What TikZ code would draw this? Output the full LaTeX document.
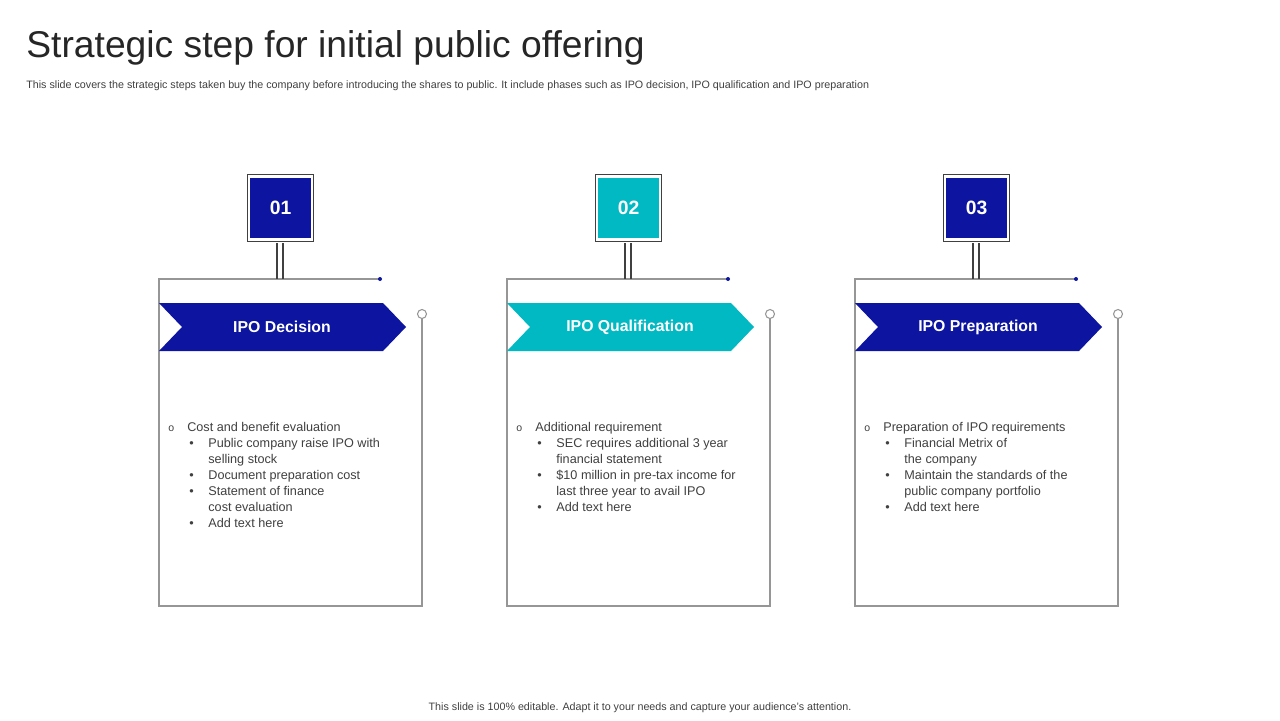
\documentclass[tikz,border=0pt]{standalone}
\usepackage{fontspec}
\setmainfont{Liberation Sans}
\usetikzlibrary{positioning}
\definecolor{ipoblue}{RGB}{12, 20, 160}
\definecolor{ipoteal}{RGB}{0, 185, 195}
\definecolor{ipogray}{RGB}{150, 150, 150}
\definecolor{ipotext}{RGB}{64, 64, 64}
\definecolor{ipotitle}{RGB}{38, 38, 38}
\newcommand{\lvlone}[1]{\makebox[10.8pt][l]{\fontsize{6}{6}\selectfont o}#1}
\newcommand{\lvltwo}[1]{\hspace{12pt}\makebox[10.8pt][l]{•}#1}
\newcommand{\lvlcont}[1]{\hspace{22.8pt}#1}

\begin{document}
\begin{tikzpicture}[
    x=0.02cm, y=-0.02cm,
    numbox/.style={
        draw=ipotext,
        fill=white,
        line width=0.6pt,
        minimum width=38pt,
        minimum height=38pt,
        inner sep=0pt
    },
    numfill/.style={
        minimum width=34.5pt,
        minimum height=34.5pt,
        inner sep=0pt,
        text=white,
        font=\fontsize{11}{11}\selectfont\bfseries
    },
    frame/.style={
        draw=ipogray,
        line width=0.6pt
    },
    chevlabel/.style={
        text=white,
        font=\fontsize{9}{9}\selectfont\bfseries
    },
    bullets/.style={
        align=left,
        anchor=north west,
        inner sep=0pt,
        text=ipotext,
        font=\fontsize{7.2}{9.07}\selectfont
    }
]

% Background
\fill[white] (0,0) rectangle (1280,720);

% Title
\node[anchor=west, inner sep=0pt, text=ipotitle, font=\fontsize{21.2}{21.2}\selectfont] (title) at (26,48) {Strategic step for initial public offering};
\node[anchor=west, inner sep=0pt, text=ipotext, font=\fontsize{6.1}{6.1}\selectfont] (subtitle) at (26,86) {This slide covers the strategic steps taken buy the company before introducing the shares to public. It include phases such as IPO  decision, IPO  qualification and IPO  preparation};

% Panels
\foreach \i/\dx/\c/\num/\lbl in {1/0/ipoblue/01/IPO Decision, 2/348/ipoteal/02/IPO Qualification, 3/696/ipoblue/03/IPO Preparation} {
    \begin{scope}[shift={(\dx,0)}]
        % frame
        \draw[frame] (380,279) -- (159,279) -- (159,606) -- (422,606) -- (422,318);
        \fill[ipoblue] (380,279) circle (2);
        \draw[frame, fill=white] (422,314) circle (4.5);
        % stem
        \draw[ipotext, line width=0.6pt] (277,243) -- (277,279);
        \draw[ipotext, line width=0.6pt] (283,243) -- (283,279);
        % number box
        \node[numbox] (box\i) at (280.5,208) {};
        \node[numfill, fill=\c] (num\i) at (box\i) {\num};
        % chevron
        \fill[\c] (159,303) -- (383,303) -- (406,327) -- (383,351) -- (159,351) -- (182,327) -- cycle;
        \node[chevlabel] (lbl\i) at (282,327) {\lbl};
    \end{scope}
}

% Bullet texts
\node[bullets] (list1) at (168,422) {%
\lvlone{Cost and benefit evaluation}\\
\lvltwo{Public company raise IPO with}\\
\lvlcont{selling stock}\\
\lvltwo{Document preparation  cost}\\
\lvltwo{Statement of finance}\\
\lvlcont{cost evaluation}\\
\lvltwo{Add text here}};

\node[bullets] (list2) at (516,422) {%
\lvlone{Additional requirement}\\
\lvltwo{SEC requires  additional 3 year}\\
\lvlcont{financial statement}\\
\lvltwo{\$10 million in pre-tax income for}\\
\lvlcont{last three year to avail  IPO}\\
\lvltwo{Add text here}};

\node[bullets] (list3) at (864,422) {%
\lvlone{Preparation  of IPO requirements}\\
\lvltwo{Financial Metrix of}\\
\lvlcont{the company}\\
\lvltwo{Maintain the standards of the}\\
\lvlcont{public company portfolio}\\
\lvltwo{Add text here}};

% Footer
\node[text=ipotext, font=\fontsize{6.1}{6.1}\selectfont] (footer) at (640,708) {This slide is 100\% editable.  Adapt it to your needs and capture your audience's attention.};

\end{tikzpicture}
\end{document}
